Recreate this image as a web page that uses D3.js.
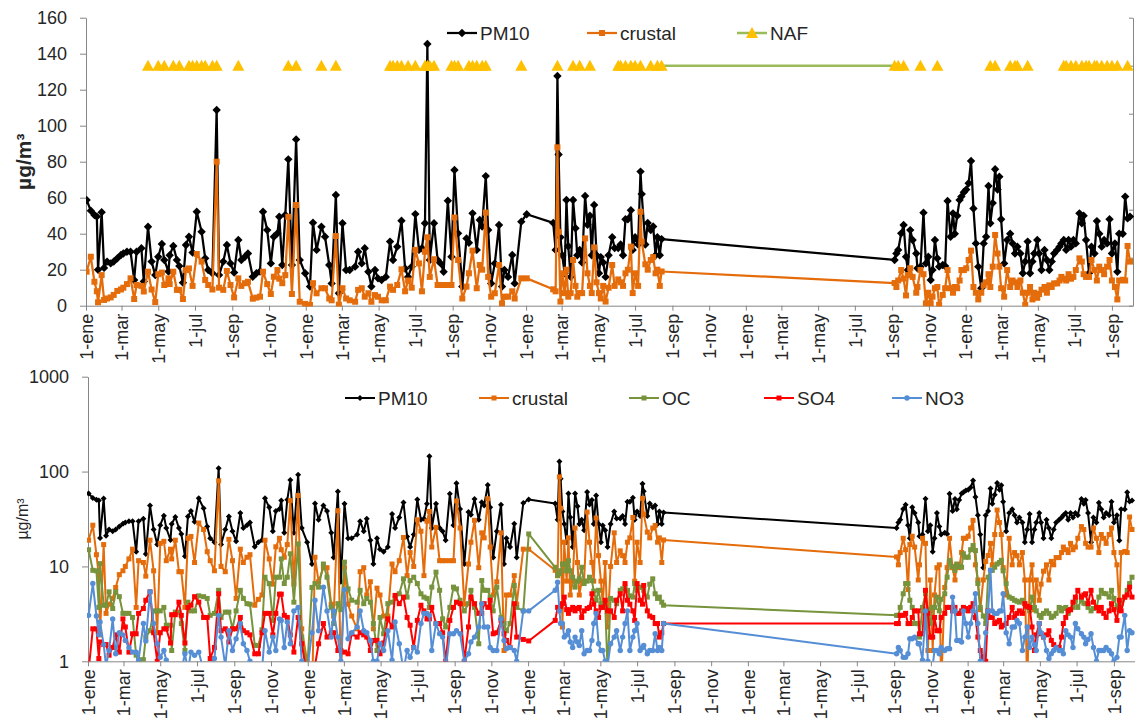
<!DOCTYPE html>
<html><head><meta charset="utf-8">
<script src="https://cdn.jsdelivr.net/npm/d3@7"></script>
<style>
body{margin:0;background:#fff;}
svg{display:block;font-family:"Liberation Sans",Arial,sans-serif;}
</style></head><body>
<svg id="c" width="1135" height="722"></svg>
<script>
// sampling dates: days since 1-ene-2011
const sampleDay = [1,8,14,18,20,26,30,35,41,46,52,58,62,68,74,80,84,92,96,103,109,115,120,126,130,137,139,145,151,155,161,166,171,177,184,192,198,203,210,217,221,228,234,240,246,253,258,264,269,277,283,289,294,301,307,312,318,321,326,331,336,342,349,355,364,372,
377,383,391,397,404,408,415,420,426,432,438,447,452,458,463,469,474,480,485,491,498,505,510,517,524,530,535,541,547,553,558,563,567,571,578,584,589,594,601,607,612,618,625,632,636,642,649,654,658,664,668,673,679,686,691,695,701,708,712,723,732,
776,780,783,785,788,791,795,798,801,805,809,813,816,820,824,829,833,837,840,844,848,852,855,859,863,868,874,878,884,888,892,896,900,905,908,912,917,921,923,929,933,938,942,946,949,953,956,
1343,1346,1349,1354,1358,1362,1365,1369,1373,1379,1381,1386,1391,1395,1399,1403,1406,1410,1414,1417,1423,1427,1431,1436,1440,1443,1447,1451,1454,1458,1462,1466,1470,1474,1478,1482,1487,1491,1495,1499,1502,1506,1510,1514,1517,1520,1525,1530,1535,1539,1543,1547,1552,1556,1560,1564,1568,1572,1575,1580,1583,1587,1592,1596,1600,1604,1608,1613,1617,1620,1624,1628,1632,1636,1640,1644,1650,1654,1657,1661,1666,1670,1675,1679,1683,1687,1691,1696,1700,1704,1709,1713,1716,1722,1726,1730,1734];

const pm10 = [58.7,52.8,50.4,49.5,20,51.9,21,24.5,23.5,24.5,26.3,28.2,29,30,30,14.3,30,31.9,13.5,43.9,24.5,17,27.2,34.3,25.4,19,28,33.2,25.4,22,12.8,33.7,38.3,29.5,52.2,41.1,26.3,19.8,18,108.7,17,24.5,33.7,23.5,18.4,36.5,25.4,27.2,29,16.1,18,19,52.2,42,23.5,38.3,40.2,49.4,22.6,50.4,81.3,22.6,92.4,25.4,18,10.6,
46.1,31,43.9,38.3,22.6,12.4,61.5,6.9,45.8,19.8,19.8,21.7,30,23.5,31.9,18.9,10.6,19.8,15.2,14.3,16,35.6,25.4,32.8,47.2,20.7,16,21.7,50.9,31,31.9,45.8,145.4,25.4,45.8,25.4,23.5,18.9,58.3,27.2,75.4,40.2,10.6,37.4,35,51.3,31,47.6,44,72,42,12.4,23.5,44.8,10.6,19.8,16,28.2,12.4,46.7,50.8,
46,31,127.6,84,38,28,18,58.7,33,16,58.7,43,28,31,24,61,45,50,28,56,28,18,27,24,16,28,38,32,32,34,28,48,48,53,31,38,34,74.5,62,34,46,42,44,28,38,28,37,
25.4,29,31,40.2,44.8,27.2,19.8,42,36.5,29,20.8,21.7,51.7,23.5,27.2,14.3,19.8,36.5,26.3,21.7,22.6,22,58.2,38.3,51.3,40,50,58.7,60.6,63,64.5,68,80.4,54,34.6,21.7,9.7,34.6,38.3,66.5,45.8,57,75.8,64.5,71.7,48,23.5,36.5,40,34.6,29,32.8,29,18,24.5,35.6,18,24.5,29,36.5,29,19.8,31,25.4,19.8,24.5,29,31,32.8,34.6,36.5,31,36.5,32.8,36.5,34.6,51.3,45.8,50,36.5,18,32.8,29,47,40,32.8,36.5,34.6,48,29,34.6,18.8,40,40,60.6,48.5,49.5];

const crustal = [18.9,27.2,13.3,8,1.9,17,3.2,4,4.6,6,8.2,9,10,12,15.2,3.7,11.5,11,7.9,18.9,9,2,17.5,18.4,11.5,15.2,12,18.9,8.8,8.8,3.7,19.8,20.7,11,28.7,24.5,14.3,11.5,9,80,10,8.8,19.3,11.5,4.6,15.2,11,12.5,13.3,3.9,4.5,5,18.9,12,6.5,16.1,19.8,15,12.5,17,49.4,6.5,55.9,2.2,1,0.4,
12.5,6.9,9.7,9.7,4,3,38.7,0.6,9.7,4,3,2.2,8.8,9.7,5,6.9,2.2,5.9,5,3,3,10.6,8.8,11.5,20.2,8,14,10,31,23.5,8,30,38,16,25.8,11.5,11.5,11.5,11.5,11.5,49,25.4,4,10.6,18,30.6,9.7,22.6,20,51.7,16,5,6.9,22.6,1.3,5,5,8,4,15.2,15.2,
9.1,8,88,41,2.3,18,7,20,5,7,25.4,11,5,7,7,37.4,18,11,7,32.4,13,7,4,11,2.3,10,22.6,11,14.6,13,11,18,20,32.8,7,18,11,52.2,35.6,23,20,25.4,27,18,20,11,19,
12.6,10.4,14,19.8,15,5.7,17,20.8,16,7.2,10.4,19.8,17.5,1.3,7.2,1.3,5,9.7,10.4,0.5,6,9.7,19.8,9.7,7.2,10.4,9.7,14,19.8,19.8,20.8,25.4,30.6,10.4,7.2,3.5,7.2,11.3,13,17.5,10.4,21.7,39.3,29,21.7,9.7,5,19.8,10.4,14,13,10.4,14,7.2,0.5,7.2,10.4,3.5,7.2,4.4,6.5,8.9,10.4,7.2,11.3,10.4,12.4,12.4,14,16,15,14,17.5,15,16,19.8,26.3,24.5,17.5,16,16,25.4,19.8,14,21.7,19.8,17.5,21.7,25.4,14,10.4,3.5,14,14.4,14,33.2,24.5];

const oc = [15,9.1,9,3.7,10.7,3.9,3.9,5.4,3.6,5.4,4.8,3.2,3.2,3.2,2.9,1.16,1.04,1.04,1.8,2.1,3.4,3.4,3.4,3.7,2.4,2.4,1.3,3.3,3.3,2.5,1.3,4.2,3.4,3.4,4.9,4.8,4.6,3.05,3.2,5.6,2.9,3.3,3.3,2.2,3.4,5.6,4.6,4.05,4,1.47,1.47,2.15,7.7,6.6,2.7,7.7,7.7,12,6.6,7.7,13.6,4.2,17.3,1.8,0.8,6,
6.6,6.05,10.6,7.7,3.7,2.5,4.05,3.5,11.1,5.8,4.4,4.2,5.6,4.05,4.6,4.2,2.5,1.3,2.9,1.95,4.05,4.2,4.6,5.15,7.4,4.75,7.1,7.7,6.6,5.15,4.75,4.6,3.7,6.05,8.7,5.6,2.8,2.3,3.7,6.05,5.8,4.4,3.4,4.05,5.6,3.7,1.53,7.1,5.6,5.6,4.75,3.4,6.05,2.9,2.5,2.1,2.5,6.3,3.7,3.4,22,
9.8,8.0,8.4,9,10.6,10.6,9,11.5,9,7.7,6.05,7.0,7.4,9.8,6.6,7.0,7.7,7.1,5.5,4.4,5.6,4.05,4.0,4.05,0.8,4.6,4.4,4.05,5.6,5.8,6.05,5.6,4.9,4.75,6.6,5.6,6.05,6.0,5.6,4.75,6.5,7.4,5.15,4.6,4.75,4.2,3.9,
3.05,3.05,3.7,5.15,6.6,6.6,4.4,3.7,2.5,2.5,1.8,3.7,5.15,3.5,2.5,3.7,3.7,4.75,3.4,4.5,5.15,7.7,11.6,10,9.1,10.6,10,9.8,13.6,12.5,12.5,15,16.6,14.7,6.6,3.7,3.0,2.5,7.7,9.1,9.1,9.8,10.6,11,11.6,9,6.6,4.75,4.6,4.4,4.3,4.2,4.4,4.05,3.7,3.4,4.75,3.7,3.4,3.05,2.9,3.2,3.4,3.2,2.9,3.0,3.2,3.7,3.4,3.6,3.7,3.2,3.5,3.7,4.4,3.7,4.4,4.1,4.05,3.7,3.4,3.6,3.7,4.75,5.6,5.2,5.15,4.75,5.6,4.6,3.7,3.9,4.05,4.75,5.6,6.6,7.7];

const so4 = [0.8,2.2,2.2,1.07,1.6,1.5,1.5,1.16,1.4,1.9,1.25,2.8,2.3,1.25,1.95,1.95,3.2,3.6,4.4,5.4,2.0,1,2.0,2.2,2.2,1.56,3.1,3.1,4.2,3.05,1.56,3.7,3.9,4.8,4.2,2.9,2.9,1.07,1.4,5.15,2.1,2.2,1.6,2.2,2.2,2.9,2.1,2.0,1.9,1.2,1.2,2.0,3.2,3.2,1.9,3.2,5.1,5.1,3.05,2.9,1.9,1.25,2.9,1.53,0.7,0.8,
0.9,1.53,2.5,1.8,2.0,2.0,1.3,1.3,1.25,1.2,1.95,1.8,2.0,1.9,1.8,1.3,1.66,1.66,1.2,1.56,2.8,2.3,4.95,4.05,4.75,2.9,2.4,1.4,2.7,3.9,3.4,2.8,2.8,3.7,2.5,2.5,2.0,1.0,2.7,3.7,4.2,4.05,1.0,2.3,4.75,4.05,3.2,3.2,4.05,3.7,4.4,1.95,2.0,2.7,1.95,1.66,1.4,4.05,1.8,1.7,1.64,
2.7,3.7,3.5,3.8,4.05,4.75,3.5,3.2,3.5,3.7,3.4,3.6,3.7,2.9,3.4,3.6,3.7,5.15,4.0,3.4,2.9,3.7,3.7,4.4,3.4,3.4,2.9,4.4,5.15,3.4,6.6,4.4,4.0,3.4,2.7,6.6,4.4,4.0,6.3,3.4,3.0,2.9,2.5,2.5,1.8,2.0,2.5,
2.5,2.5,3.05,3.05,3.2,2.5,2.5,2.9,3.4,3.4,1.95,1.95,5.6,3.2,1.8,1.8,2.9,2.1,2.1,2.9,3.2,3.7,3.7,3.4,3.7,3.2,3.2,3.4,3.7,3.6,3.4,3.7,4.05,2.9,1.8,1.3,1.1,1,3.4,2.9,2.9,2.5,2.6,2.7,2.3,2.4,2.5,2.9,3.7,2.9,3.2,3.4,3.2,4.05,3.8,3.7,2.3,1.3,1.9,2.5,1.95,1.8,1.9,2.1,1.66,1.5,1.4,1.4,1.8,2.5,2.9,3.4,3.5,4.2,4.75,5.6,4.75,5.0,5.15,4.05,5.6,4.2,3.7,3.4,3.7,3.2,2.9,3.4,4.05,3.5,2.7,4.4,3.4,4.75,5.0,6.05,4.75];

const no3 = [3.05,6.6,3,1.9,2.6,1.5,0.9,1.3,2.8,1.2,2.0,1.9,1.66,1.4,1.25,1.25,1.03,2.5,1.64,5.4,2.5,1.53,1.1,1.3,1.03,0.8,0.8,0.7,0.8,0.8,1.2,0.8,1.25,1.16,1.25,0.8,0.7,0.8,1.07,3.05,1.8,0.9,2.1,1.3,1.73,2.5,1.53,1.3,1,0.8,0.7,0.8,2.1,1.25,1.8,1.3,2.8,2.7,1.4,2.6,1.53,3.4,3.7,1,0.8,2,
4.4,2.1,6.05,3.4,1.8,3.4,1.8,1.0,5.7,1.73,2.0,2.3,3.4,2.1,2.0,1.66,1.0,1.0,1.53,1.3,2.1,1.03,2.6,1.53,0.8,1.3,1.1,1.4,1.25,2.5,3.2,3.2,3.05,1.3,2.5,1.95,1.8,0.8,1.95,1.95,2.1,1.95,1.0,1.2,1.6,1.8,2.3,4.05,2.3,2.3,1.4,1.3,1.3,2.8,1.66,1.36,1.4,1.3,1.0,3.4,3.4,
5.6,6.8,3.4,2.5,2.5,1.8,1.9,2.1,1.6,1.4,1.8,1.6,1.47,2.1,1.2,1.3,1.3,1.66,2.5,3.2,1.53,1.3,1.3,1.0,0.9,1.53,1.8,2.1,1.3,1.8,2.5,3.4,1.3,1.8,2.1,2.5,1.3,1.4,1.47,1.2,1.3,1.3,1.95,1.3,1.4,1.3,2.5,
1.2,1.4,1.3,1.1,1.1,1.2,1.73,1.73,1.8,1.53,1.53,1.03,3.4,1,0.9,0.9,1.3,1.3,1.2,1.4,1.3,1.36,1.36,4.75,3.4,1.66,1.66,1.6,3.4,2.5,1.8,2.5,3.4,5.15,2.5,1,0.9,2.0,3.4,9.1,3.4,3.2,3.2,3.4,3.4,5.15,2.0,1.53,2.3,2.3,2.7,2.5,1.3,1.8,2.3,1.4,1.8,1.5,1.3,2.5,2.0,1.8,1.3,1.07,1.2,1.3,1.4,1.3,1.3,1.2,2.1,1.9,1.8,1.4,2.5,2.2,1.95,1.8,1.53,1.7,1.95,1.4,1,1.3,1.3,1.3,1.4,1.3,1.2,1.0,1.1,1.8,1.8,3.05,1.3,2.1,2.0];

// sampling days flagged as NAF (North-African dust) events, drawn on a hidden secondary axis
const nafDay = [103,120,130,145,155,171,177,184,192,198,210,217,253,336,349,391,415,505,510,517,524,535,547,563,567,571,578,607,612,618,636,642,649,658,664,723,783,809,820,837,884,888,896,905,912,921,938,949,956,1343,1349,1358,1386,1414,1502,1510,1535,1543,1547,1564,1624,1628,1636,1644,1654,1661,1666,1675,1679,1687,1696,1704,1713,1730];
const nafLevel = 5;
const nafAxisMax = 6;

const monthAbbr = ["ene","feb","mar","abr","may","jun","jul","ago","sep","oct","nov","dic"];
const yTicksTop = [0,20,40,60,80,100,120,140,160];
const yTicksBottom = [1,10,100,1000];
const unitLabel = "µg/m³";

// ---------- build rows ----------
const start = new Date(2011,0,1), end = new Date(2015,9,6);
const nafSet = new Set(nafDay);
const rows = sampleDay.map((d,i)=>({
  date: d3.timeDay.offset(start,d),
  pm10: pm10[i], crustal: crustal[i], oc: oc[i], so4: so4[i], no3: no3[i],
  naf: nafSet.has(d) ? nafLevel : null
}));

const svg = d3.select("#c");
const AX = "#868686", TXT = "#262626";

// ---------- geometry ----------
const T = {l:86, r:1133, t:17.7, b:305.7};
const B = {l:88, r:1135, t:376.7, b:661.3};
const xT = d3.scaleTime().domain([start,end]).range([T.l,T.r]);
const yT = d3.scaleLinear().domain([0,160]).range([T.b,T.t]);
const yN = d3.scaleLinear().domain([0,nafAxisMax]).range([T.b,T.t]);
const xB = d3.scaleTime().domain([start,end]).range([B.l,B.r]);
const yB = d3.scaleLog().domain([1,1000]).range([B.b,B.t]);

const defs = svg.append("defs");
defs.append("clipPath").attr("id","clipT").append("rect").attr("x",T.l).attr("y",T.t-12).attr("width",1135-T.l).attr("height",T.b-T.t+12.8);
defs.append("clipPath").attr("id","clipB").append("rect").attr("x",B.l-1).attr("y",B.t-10).attr("width",1135-B.l+1).attr("height",B.b-B.t+10.3);

// ---------- markers ----------
function marker(g, type, s, color){
  if(type==="diamond") return g.append("path").attr("d",`M0,${-s}L${s},0L0,${s}L${-s},0Z`).attr("fill",color);
  if(type==="square") return g.append("rect").attr("x",-s/2).attr("y",-s/2).attr("width",s).attr("height",s).attr("fill",color);
  if(type==="circle") return g.append("circle").attr("r",s).attr("fill",color);
  if(type==="triangle") return g.append("path").attr("d",`M0,${-s*0.55}L${s*0.55},${s*0.45}L${-s*0.55},${s*0.45}Z`).attr("fill",color);
}

function drawSeries(layer, x, y, key, lineColor, mType, mSize, mColor, lw){
  const def = d => d[key]!=null;
  const line = d3.line().defined(def).x(d=>x(d.date)).y(d=>y(d[key]));
  layer.append("path").datum(rows).attr("d",line).attr("fill","none")
    .attr("stroke",lineColor).attr("stroke-width",lw).attr("stroke-linejoin","round");
  const mg = layer.append("g");
  rows.filter(def).forEach(d=>{
    const g = mg.append("g").attr("transform",`translate(${x(d.date)},${y(d[key])})`);
    marker(g,mType,mSize,mColor);
  });
}

// ---------- axes ----------
function xAxis(x, yPos){
  const ax = d3.axisBottom(x).ticks(d3.timeMonth.every(2))
    .tickFormat(d=>"1-"+monthAbbr[d.getMonth()]).tickSize(5).tickSizeOuter(0);
  const g = svg.append("g").attr("transform",`translate(0,${yPos})`).call(ax);
  g.select(".domain").attr("stroke",AX);
  g.selectAll(".tick line").attr("stroke",AX);
  g.selectAll(".tick text").attr("transform","rotate(-90)").attr("text-anchor","end")
    .attr("x",-8).attr("y",0).attr("dy","0.35em").attr("fill",TXT)
    .style("font-size","18px").style("font-family","'Liberation Sans',Arial,sans-serif");
}
function yAxis(y, xPos, ticks, fmt){
  const ax = d3.axisLeft(y).tickValues(ticks).tickFormat(fmt).tickSize(6).tickPadding(13).tickSizeOuter(0);
  const g = svg.append("g").attr("transform",`translate(${xPos},0)`).call(ax);
  g.select(".domain").attr("stroke",AX);
  g.selectAll(".tick line").attr("stroke",AX);
  g.selectAll(".tick text").attr("fill",TXT).style("font-size","18px")
    .style("font-family","'Liberation Sans',Arial,sans-serif");
}

// top chart
yAxis(yT, T.l, yTicksTop, d3.format("d"));
xAxis(xT, T.b);
{
  const ax = d3.axisRight(yN).ticks(6).tickFormat("").tickSize(-4).tickSizeOuter(0);
  const g = svg.append("g").attr("transform",`translate(${T.r},0)`).call(ax);
  g.select(".domain").attr("stroke",AX);
  g.selectAll(".tick line").attr("stroke",AX);
}
const topLayer = svg.append("g").attr("clip-path","url(#clipT)");
drawSeries(topLayer, xT, yT, "pm10", "#000000", "diamond", 4.2, "#000000", 2.25);
drawSeries(topLayer, xT, yT, "crustal", "#E46C0A", "square", 6, "#E46C0A", 2.25);
drawSeries(topLayer, xT, yN, "naf", "#9BBB59", "triangle", 11, "#FFC000", 2.5);

// bottom chart
yAxis(yB, B.l, yTicksBottom, d3.format("d"));
xAxis(xB, B.b);
const botLayer = svg.append("g").attr("clip-path","url(#clipB)");
drawSeries(botLayer, xB, yB, "pm10", "#000000", "diamond", 3, "#000000", 2);
drawSeries(botLayer, xB, yB, "crustal", "#E46C0A", "square", 5, "#E46C0A", 2);
drawSeries(botLayer, xB, yB, "oc", "#77933C", "square", 5, "#77933C", 2);
drawSeries(botLayer, xB, yB, "so4", "#FF0000", "square", 5, "#FF0000", 2);
drawSeries(botLayer, xB, yB, "no3", "#558ED5", "circle", 2.7, "#558ED5", 2);

// axis titles
svg.append("text").attr("transform",`translate(24,${(T.t+T.b)/2}) rotate(-90)`).attr("text-anchor","middle")
  .attr("dy","0.35em").attr("fill",TXT).style("font-size","21px").style("font-weight","bold").text(unitLabel);
svg.append("text").attr("transform",`translate(22,${(B.t+B.b)/2}) rotate(-90)`).attr("text-anchor","middle")
  .attr("dy","0.35em").attr("fill",TXT).style("font-size","16px").text(unitLabel);

// legends
function legend(items, y){
  items.forEach(it=>{
    const g = svg.append("g");
    g.append("line").attr("x1",it.x-33).attr("x2",it.x-3).attr("y1",y).attr("y2",y)
      .attr("stroke",it.line).attr("stroke-width",it.lw);
    const m = g.append("g").attr("transform",`translate(${it.x-18},${y})`);
    marker(m,it.m,it.s,it.mc);
    g.append("text").attr("x",it.x).attr("y",y).attr("dy","0.35em").attr("fill",TXT)
      .style("font-size","19px").text(it.label);
  });
}
legend([
  {x:480,label:"PM10",line:"#000",lw:2.25,m:"diamond",s:4.2,mc:"#000"},
  {x:620,label:"crustal",line:"#E46C0A",lw:2.25,m:"square",s:6,mc:"#E46C0A"},
  {x:770,label:"NAF",line:"#9BBB59",lw:2.5,m:"triangle",s:11,mc:"#FFC000"}
], 33);
legend([
  {x:378,label:"PM10",line:"#000",lw:2,m:"diamond",s:3,mc:"#000"},
  {x:512,label:"crustal",line:"#E46C0A",lw:2,m:"square",s:5,mc:"#E46C0A"},
  {x:662,label:"OC",line:"#77933C",lw:2,m:"square",s:5,mc:"#77933C"},
  {x:797,label:"SO4",line:"#FF0000",lw:2,m:"square",s:5,mc:"#FF0000"},
  {x:925,label:"NO3",line:"#558ED5",lw:2,m:"circle",s:2.7,mc:"#558ED5"}
], 398);
</script>
</body></html>
